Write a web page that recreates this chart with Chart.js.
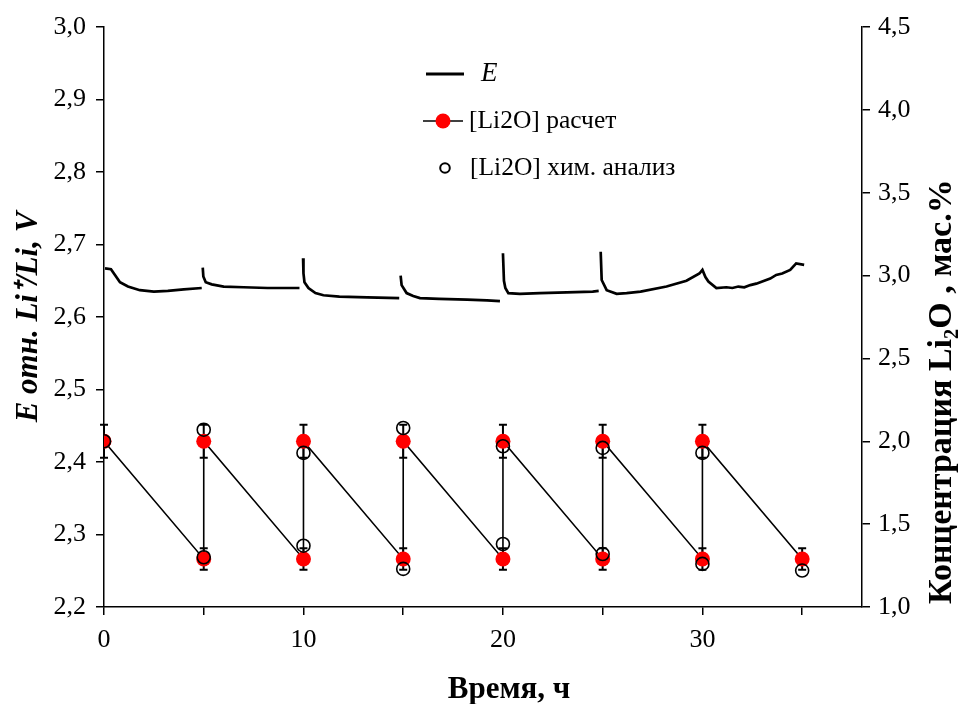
<!DOCTYPE html>
<html><head><meta charset="utf-8">
<script src="https://cdn.jsdelivr.net/npm/chart.js@4/dist/chart.umd.min.js"></script>
<style>html,body{margin:0;padding:0;background:#fff}#wrap{width:959px;height:704px}</style>
</head><body><div id="wrap"><canvas id="c" width="959" height="704"></canvas></div>
<script>
// E vs time (left axis); null = break between segments
const eTime = [0.05,0.35,0.55,0.8,1.2,1.8,2.5,3.2,4.0,4.9, 4.93,
  4.95,4.98,5.1,5.4,6.0,7.0,8.2,9.8, 9.9,
  9.98,10.0,10.05,10.25,10.6,11.0,11.8,13.2,14.8, 14.85,
  14.87,14.92,15.17,15.5,15.84,16.8,18.2,19.2,19.85, 19.9,
  20.0,20.05,20.12,20.27,20.85,21.85,23.2,24.5,24.8, 24.85,
  24.9,24.95,25.2,25.7,26.2,26.9,28.2,29.2,29.85,30.0,30.15,30.3,30.7,31.2,31.5,31.8,32.1,32.4,32.7,33.0,33.4,33.7,34.0,34.4,34.7,35.1];
const eValue = [2.667,2.666,2.658,2.648,2.642,2.637,2.635,2.636,2.638,2.640, null,
  2.668,2.656,2.648,2.645,2.642,2.641,2.640,2.640, null,
  2.681,2.660,2.648,2.640,2.633,2.630,2.628,2.627,2.626, null,
  2.657,2.644,2.633,2.629,2.626,2.625,2.624,2.623,2.622, null,
  2.688,2.650,2.640,2.633,2.632,2.633,2.634,2.635,2.636, null,
  2.690,2.651,2.637,2.632,2.633,2.635,2.642,2.650,2.660,2.665,2.655,2.649,2.640,2.641,2.640,2.642,2.641,2.644,2.646,2.649,2.653,2.658,2.660,2.665,2.674,2.672];

// [Li2O] calculated (right axis)
const calcTime  = [0,5,5,10,10,15,15,20,20,25,25,30,30,35];
const calcValue = [2.0,1.29,2.0,1.29,2.0,1.29,2.0,1.29,2.0,1.29,2.0,1.29,2.0,1.29];
const calcError = [0.10,0.065,0.10,0.065,0.10,0.065,0.10,0.065,0.10,0.065,0.10,0.065,0.10,0.065];

// [Li2O] chemical analysis (right axis)
const chemTime  = [0,5,5,10,10,15,15,20,20,25,25,30,30,35];
const chemValue = [2.0,1.30,2.07,1.37,1.93,1.23,2.08,1.38,1.97,1.32,1.96,1.26,1.93,1.22];

const xTicks = [0,5,10,15,20,25,30,35];
const xTickLabels = ['0','','10','','20','','30',''];
const leftTicks = [2.2,2.3,2.4,2.5,2.6,2.7,2.8,2.9,3.0];
const rightTicks = [1.0,1.5,2.0,2.5,3.0,3.5,4.0,4.5];
const legendLabels = ['E','[Li2O] расчет','[Li2O] хим. анализ'];
const xTitle = 'Время, ч';
const rightTitle = 'Концентрация Li₂O , мас.%';

const FONT = 'Liberation Serif';
const fmt = v => Number(v).toFixed(1).replace('.', ',');

const errorBars = {
  id: 'errorBars',
  beforeDatasetsDraw(chart) {
    const {ctx, scales: {x, y1}} = chart;
    ctx.save();
    ctx.strokeStyle = '#000';
    ctx.lineWidth = 2;
    calcTime.forEach((t, i) => {
      const px = x.getPixelForValue(t);
      const yt = y1.getPixelForValue(calcValue[i] + calcError[i]);
      const yb = y1.getPixelForValue(calcValue[i] - calcError[i]);
      ctx.beginPath();
      ctx.moveTo(px, yt); ctx.lineTo(px, yb);
      ctx.moveTo(px - 4, yt); ctx.lineTo(px + 4, yt);
      ctx.moveTo(px - 4, yb); ctx.lineTo(px + 4, yb);
      ctx.stroke();
    });
    ctx.restore();
  }
};

const customText = {
  id: 'customText',
  afterDraw(chart) {
    const ctx = chart.ctx;
    ctx.save();
    ctx.textBaseline = 'middle';
    ctx.fillStyle = '#000';
    // legend: E
    ctx.strokeStyle = '#000'; ctx.lineWidth = 3;
    ctx.beginPath(); ctx.moveTo(426, 74); ctx.lineTo(464, 74); ctx.stroke();
    ctx.font = 'italic 27px "' + FONT + '"';
    ctx.fillText(legendLabels[0], 481, 74);
    // legend: calc
    ctx.lineWidth = 1.5;
    ctx.beginPath(); ctx.moveTo(423, 121); ctx.lineTo(463, 121); ctx.stroke();
    ctx.fillStyle = '#ff0000';
    ctx.beginPath(); ctx.arc(443, 121, 7.5, 0, Math.PI * 2); ctx.fill();
    ctx.fillStyle = '#000';
    ctx.font = '25.5px "' + FONT + '"';
    ctx.fillText(legendLabels[1], 469, 121);
    // legend: chem
    ctx.lineWidth = 2;
    ctx.beginPath(); ctx.arc(445, 168, 4.8, 0, Math.PI * 2); ctx.stroke();
    ctx.fillText(legendLabels[2], 470, 168);
    // x axis title
    ctx.font = 'bold 31px "' + FONT + '"';
    ctx.textAlign = 'center';
    ctx.fillText(xTitle, 509, 690);
    // right axis title, reading bottom-to-top
    ctx.font = 'bold 34px "' + FONT + '"';
    ctx.translate(942, 604);
    ctx.rotate(-Math.PI / 2);
    ctx.textAlign = 'left';
    ctx.fillText(rightTitle, 0, 0);
    ctx.restore();
  }
};

new Chart(document.getElementById('c'), {
  type: 'scatter',
  data: {
    datasets: [
      {
        label: legendLabels[2],
        data: chemTime.map((t, i) => ({x: t, y: chemValue[i]})),
        yAxisID: 'y1', showLine: false, order: 0,
        pointRadius: 6.5, pointBackgroundColor: 'rgba(0,0,0,0)',
        pointBorderColor: '#000', pointBorderWidth: 1.6
      },
      {
        label: legendLabels[1],
        data: calcTime.map((t, i) => ({x: t, y: calcValue[i]})),
        yAxisID: 'y1', showLine: true, order: 1,
        borderColor: '#000', borderWidth: 1.6,
        pointRadius: 7.5, pointBackgroundColor: '#ff0000',
        pointBorderColor: '#ff0000', pointBorderWidth: 0
      },
      {
        label: legendLabels[0],
        data: eTime.map((t, i) => ({x: t, y: eValue[i]})),
        yAxisID: 'y', showLine: true, spanGaps: false, order: 2,
        borderColor: '#000', borderWidth: 2.7, pointRadius: 0, tension: 0
      }
    ]
  },
  options: {
    responsive: false,
    animation: false,
    layout: {padding: {top: 27, left: 0, right: 0, bottom: 0}},
    plugins: {legend: {display: false}, tooltip: {enabled: false}},
    scales: {
      x: {
        type: 'linear', position: 'bottom', min: 0, max: 38,
        afterBuildTicks: s => { s.ticks = xTicks.map(v => ({value: v})); },
        afterFit: s => { s.height = 97; },
        ticks: {
          color: '#000', padding: 10, maxRotation: 0, autoSkip: false,
          font: {family: FONT, size: 26},
          callback: (v, i) => xTickLabels[i]
        },
        grid: {drawOnChartArea: false, drawTicks: true, tickLength: 8, color: '#000', lineWidth: 1.5},
        border: {display: true, color: '#000', width: 1.5},
        title: {display: false}
      },
      y: {
        type: 'linear', position: 'left', min: 2.2, max: 3.0,
        afterBuildTicks: s => { s.ticks = leftTicks.map(v => ({value: v})); },
        afterFit: s => { s.width = 104; },
        ticks: {color: '#000', padding: 10, font: {family: FONT, size: 26}, callback: v => fmt(v)},
        grid: {drawOnChartArea: false, drawTicks: true, tickLength: 8, color: '#000', lineWidth: 1.5},
        border: {display: true, color: '#000', width: 1.5},
        title: {display: true, text: 'E отн. Li⁺/Li, V', color: '#000',
          font: {family: FONT, size: 31, weight: 'bold', style: 'italic', lineHeight: 1.0}, padding: {top: 13, bottom: 0}}
      },
      y1: {
        type: 'linear', position: 'right', min: 1.0, max: 4.5,
        afterBuildTicks: s => { s.ticks = rightTicks.map(v => ({value: v})); },
        afterFit: s => { s.width = 97; },
        ticks: {color: '#000', padding: 8, font: {family: FONT, size: 26}, callback: v => fmt(v)},
        grid: {drawOnChartArea: false, drawTicks: true, tickLength: 8, color: '#000', lineWidth: 1.5},
        border: {display: true, color: '#000', width: 1.5},
        title: {display: false}
      }
    }
  },
  plugins: [errorBars, customText]
});
</script>
</body></html>
